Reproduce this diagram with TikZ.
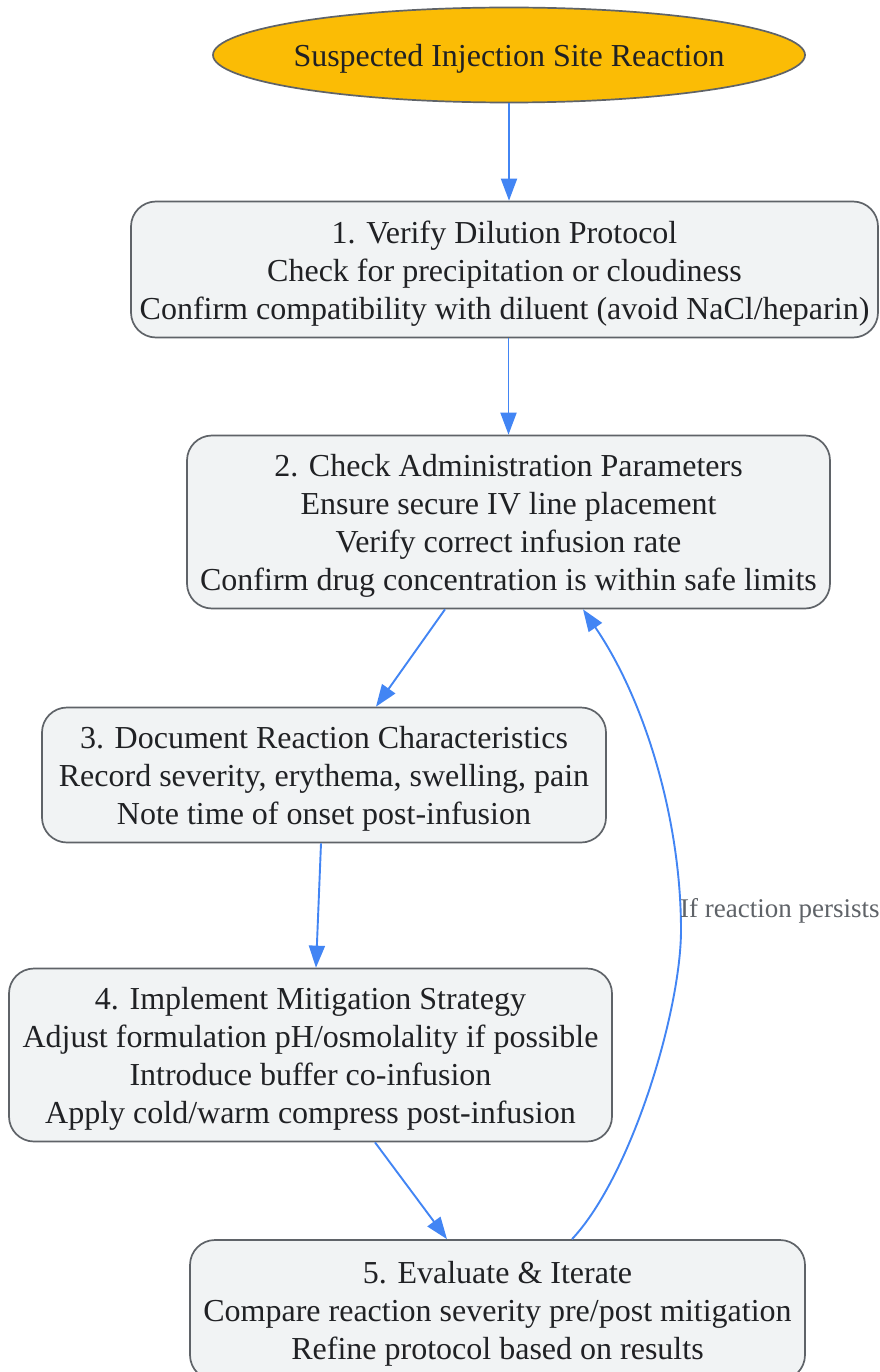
\documentclass[tikz,border=0pt]{standalone}
\usepackage{fontspec}
\setmainfont{Liberation Serif}
\usetikzlibrary{arrows.meta,shapes.geometric}
\definecolor{edgeblue}{HTML}{4285F4}
\definecolor{bordgray}{HTML}{5F6368}
\definecolor{boxfill}{HTML}{F1F3F4}
\definecolor{startfill}{HTML}{FBBC05}
\definecolor{txtcol}{HTML}{202124}
\newcommand{\topstrut}{\rule{0pt}{31pt}}
\newcommand{\botstrut}{\rule[-8pt]{0pt}{0pt}}
\tikzset{
  stepbox/.style={draw=bordgray, line width=1.7pt, fill=boxfill, rounded corners=25pt,
    inner sep=0pt, align=center, text=txtcol, font=\fontsize{32}{38}\selectfont},
  startnode/.style={ellipse, draw=bordgray, line width=1.7pt, fill=startfill,
    inner sep=0pt, text=txtcol, font=\fontsize{32}{38}\selectfont},
  flow/.style={draw=edgeblue, line width=1.9pt, -{Triangle[length=22pt,width=16pt]}},
  lbl/.style={text=bordgray, inner sep=0pt, font=\fontsize{27}{32}\selectfont}
}
\begin{document}
\begin{tikzpicture}[x=1pt,y=-1pt]
\path[use as bounding box, fill=white] (0,0) rectangle (879,1372);
\node[startnode, minimum width=592pt, minimum height=95pt] (start) at (509,55) {\makebox[0pt]{\topstrut Suspected Injection Site Reaction\botstrut}};
\node[stepbox, minimum width=747pt, minimum height=136pt] (s1) at (504.5,269.5)
  {\topstrut 1. Verify Dilution Protocol\\Check for precipitation or cloudiness\\Confirm compatibility with diluent (avoid NaCl/heparin)\botstrut};
\node[stepbox, minimum width=643pt, minimum height=173pt] (s2) at (508.5,522)
  {\topstrut 2. Check Administration Parameters\\Ensure secure IV line placement\\Verify correct infusion rate\\Confirm drug concentration is within safe limits\botstrut};
\node[stepbox, minimum width=564pt, minimum height=135pt] (s3) at (324,775)
  {\topstrut 3. Document Reaction Characteristics\\Record severity, erythema, swelling, pain\\Note time of onset post-infusion\botstrut};
\node[stepbox, minimum width=603pt, minimum height=173pt] (s4) at (310.5,1055)
  {\topstrut 4. Implement Mitigation Strategy\\Adjust formulation pH/osmolality if possible\\Introduce buffer co-infusion\\Apply cold/warm compress post-infusion\botstrut};
\node[stepbox, minimum width=615pt, minimum height=140pt] (s5) at (497.5,1310)
  {\topstrut 5. Evaluate \& Iterate\\Compare reaction severity pre/post mitigation\\Refine protocol based on results\botstrut};
\draw[flow] (start.south) -- (start.south |- s1.north);
\draw[flow] ([xshift=4pt]s1.south) -- (s2.north);
\draw[flow] ([xshift=-63.5pt]s2.south) -- ([xshift=52pt]s3.north);
\draw[flow] ([xshift=-3pt]s3.south) -- ([xshift=5.5pt]s4.north);
\draw[flow] ([xshift=64.5pt]s4.south) -- ([xshift=-50.5pt]s5.north);
\coordinate (bend) at (681,930);
\draw[flow] ([xshift=74.5pt]s5.north) .. controls (632,1175) and (681,1010) .. (bend)
  .. controls (681,820) and (645,700) .. ([xshift=74.5pt]s2.south);
\node[lbl, anchor=west] (persist) at (680,911) {If reaction persists};
\end{tikzpicture}
\end{document}
